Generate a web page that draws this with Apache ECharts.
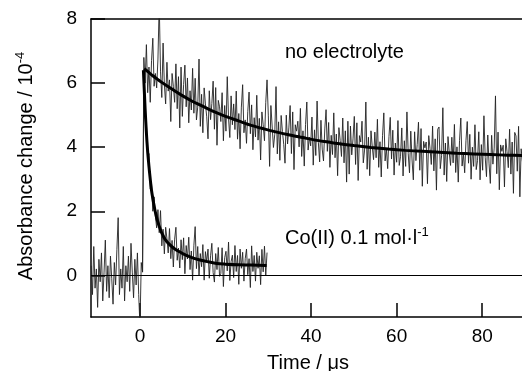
<!DOCTYPE html>
<html><head><meta charset="utf-8">
<script src="https://cdn.jsdelivr.net/npm/echarts@6/dist/echarts.min.js"></script>
<style>html,body{margin:0;padding:0;background:#fff}#c{width:522px;height:371px}</style>
</head><body><div id="c"></div>
<script>
const xTicks = [0, 20, 40, 60, 80];
const yTicks = [0, 2, 4, 6, 8];
const sampleStep = 0.3;

const baselineStart = -11.4;
const baselineValues = [0.3,-0.6,0.9,-0.4,0.2,-1.0,0.5,-0.2,0.7,-0.8,0.1,1.1,-0.5,0.3,-0.7,0.6,-0.1,-0.9,0.4,-0.3,0.8,1.8,-0.6,0.2,-0.4,0.9,-0.8,0.3,-0.2,0.6,-0.5,1.0,0.1,-0.7,0.5,-0.3,0.7,-0.6,-1.6,0.4,0.1];

const noElectrolyteStart = 0.6;
const noElectrolyteValues = [0.1,
6.8,6.0,7.2,5.7,6.5,5.4,6.7,7.4,5.9,6.3,
5.85,6.75,8.5,6.35,5.55,7.25,5.95,5.35,6.65,5.75,
6.1,4.8,6.3,5.9,5.4,6.6,5.2,6.2,4.6,6.5,
4.96,5.96,6.56,5.26,6.16,4.76,5.76,5.16,6.46,5.06,
6.15,4.85,5.25,6.75,4.65,5.65,4.45,5.85,5.35,4.95,
4.26,5.76,4.86,5.36,6.06,4.56,5.86,4.06,5.46,5.26,
4.8,5.7,4.2,5.3,4.5,6.2,4.9,4.3,5.6,4.7,
5.35,4.55,5.75,4.25,5.05,3.95,5.25,5.95,4.45,4.85,
4.12,5.12,5.72,4.42,5.32,3.92,4.92,4.32,5.62,4.22,
4.9,3.6,5.1,4.7,4.2,5.4,6.1,5.0,3.4,5.3,
5.29,3.99,4.39,5.89,3.79,4.79,3.59,4.99,4.49,4.09,
3.5,5.0,4.1,4.6,5.3,3.8,5.1,3.3,4.7,4.5,
4.81,4.01,5.21,3.71,4.51,3.41,4.71,5.41,3.91,4.31,
4.04,4.94,3.44,4.54,3.74,5.44,4.14,3.54,4.84,3.94,
3.57,4.57,5.17,3.87,4.77,3.37,4.37,3.77,5.07,3.67,
4.41,3.11,4.61,4.21,3.71,4.91,3.51,4.51,2.91,4.81,
3.16,4.66,3.76,4.26,4.96,3.46,4.76,2.96,4.36,4.16,
4.81,3.51,3.91,5.41,3.31,4.31,3.11,4.51,4.01,3.61,
4.47,3.67,4.87,3.37,4.17,3.07,4.37,5.07,3.57,3.97,
3.33,4.33,4.93,3.63,4.53,3.13,4.13,3.53,4.83,3.43,
3.7,4.6,3.1,4.2,3.4,5.1,3.8,3.2,4.5,3.6,
2.98,4.48,3.58,4.08,4.78,3.28,4.58,2.78,4.18,3.98,
4.16,2.86,4.36,3.96,3.46,4.66,3.26,4.26,2.66,4.56,
4.63,3.33,3.73,5.23,3.13,4.13,2.93,4.33,3.83,3.43,
4.31,3.51,4.71,3.21,4.01,2.91,4.21,4.91,3.41,3.81,
3.2,4.2,4.8,3.5,4.4,3.0,4.0,3.4,4.7,3.3,
3.58,4.48,2.98,4.08,3.28,4.98,3.68,3.08,4.38,3.48,
2.87,4.37,3.47,3.97,5.6,3.17,4.47,2.67,4.07,3.87,
4.06,2.76,4.26,3.86,3.36,4.56,3.16,4.16,2.56,4.46,
4.35,3.25,4.65,2.45,3.95,3.55];

const cobaltStart = 0.6;
const cobaltValues = [0.1,
6.4,4.9,4.75,3.65,3.8,2.7,2.85,2.0,2.45,1.85,
1.48,2.05,1.33,2.02,0.92,1.44,0.67,1.5,1.15,0.7,
1.46,0.52,1.09,0.26,1.13,1.5,0.47,0.85,0.23,1.11,
0.49,1.17,0.05,0.93,0.51,1.19,0.18,0.76,-0.15,0.94,
1.52,0.21,0.9,-0.01,0.68,0.27,0.96,-0.15,0.74,0.43,
0.82,-0.09,0.61,1.0,0.09,-0.21,0.68,0.18,0.87,-0.03,
0.06,0.86,-0.35,0.55,0.75,0.14,1.04,-0.16,0.43,0.63,
-0.07,0.93,0.12,0.62,-0.28,0.82,0.22,0.72,-0.18,0.52,
0.82,0.02,0.52,-0.38,0.92,0.12,0.62,-0.18,0.72,0.22,
0.61,-0.29,0.81,0.11,0.91,0.01,0.71];

const noElectrolyteFitTimes = [1,2,3,4,5,6,8,10,12,14,16,18,20,23,26,29,32,35,38,41,44,47,50,54,58,62,66,70,74,78,82,86,89.3];
const noElectrolyteFitValues = [6.45,6.34,6.23,6.13,6.03,5.94,5.77,5.6,5.45,5.32,5.19,5.07,4.96,4.82,4.68,4.57,4.47,4.38,4.3,4.22,4.16,4.1,4.05,3.99,3.94,3.9,3.87,3.84,3.81,3.79,3.77,3.75,3.74];

const cobaltFitTimes = [0.8,1.2,1.5,1.8,2.1,2.4,2.7,3.0,3.5,4,4.5,5,6,7,8,9,10,12,14,16,18,20,23,26,29.6];
const cobaltFitValues = [6.4,5.2,4.45,3.85,3.4,3.0,2.65,2.4,2.03,1.74,1.53,1.35,1.1,0.95,0.84,0.75,0.68,0.56,0.48,0.42,0.37,0.35,0.33,0.32,0.31];

const FONT = '"Liberation Sans", Arial, Helvetica, sans-serif';

function sampled(start, values) {
  return values.map((v, i) => [+(start + i * sampleStep).toFixed(2), v]);
}
function paired(times, values) {
  return times.map((t, i) => [t, values[i]]);
}

const rawStyle = { color: '#222', width: 0.9 };
const fitStyle = { color: '#000', width: 3 };

const chart = echarts.init(document.getElementById('c'), null, { renderer: 'canvas' });
chart.setOption({
  animation: false,
  backgroundColor: '#fff',
  grid: { left: 91, top: 19, right: 0, bottom: 54, containLabel: false },
  xAxis: [{
    type: 'value', min: -11.45, max: 89.3, position: 'bottom',
    axisLine: { show: true, onZero: false, lineStyle: { color: '#000', width: 1.5 } },
    axisTick: { show: true, inside: true, length: 14, customValues: xTicks, lineStyle: { color: '#000', width: 1.5 } },
    axisLabel: { show: true, customValues: xTicks, fontSize: 19, color: '#000', margin: 10, fontFamily: FONT },
    splitLine: { show: false }
  }, {
    type: 'value', min: -11.45, max: 89.3, position: 'top',
    axisLine: { show: true, onZero: false, lineStyle: { color: '#000', width: 1.5 } },
    axisTick: { show: false }, axisLabel: { show: false }, splitLine: { show: false }
  }],
  yAxis: {
    type: 'value', min: -1.3, max: 8,
    axisLine: { show: true, onZero: false, lineStyle: { color: '#000', width: 1.5 } },
    axisTick: { show: true, inside: true, length: 14, customValues: yTicks, lineStyle: { color: '#000', width: 1.5 } },
    axisLabel: { show: true, customValues: yTicks, fontSize: 19, color: '#000', margin: 14, fontFamily: FONT },
    splitLine: { show: false }
  },
  series: [
    { type: 'line', data: sampled(baselineStart, baselineValues), showSymbol: false, symbol: 'none', lineStyle: rawStyle, clip: true,
      markLine: { silent: true, symbol: 'none', label: { show: false }, lineStyle: { color: '#000', width: 1.2, type: 'solid' }, data: [{ yAxis: 0 }] } },
    { type: 'line', data: sampled(noElectrolyteStart, noElectrolyteValues), showSymbol: false, symbol: 'none', lineStyle: rawStyle, clip: true },
    { type: 'line', data: sampled(cobaltStart, cobaltValues), showSymbol: false, symbol: 'none', lineStyle: rawStyle, clip: true },
    { type: 'line', data: paired(noElectrolyteFitTimes, noElectrolyteFitValues), showSymbol: false, symbol: 'none', smooth: 0.3, lineStyle: fitStyle, z: 5 },
    { type: 'line', data: paired(cobaltFitTimes, cobaltFitValues), showSymbol: false, symbol: 'none', smooth: 0.3, lineStyle: fitStyle, z: 5 }
  ],
  graphic: [
    { type: 'text', x: 26, y: 166, rotation: Math.PI / 2,
      style: { text: 'Absorbance change / 10{sup|-4}', fontSize: 20, fontFamily: FONT, fill: '#000', align: 'center', verticalAlign: 'middle', lineHeight: 24,
        rich: { sup: { fontSize: 13, lineHeight: 14, verticalAlign: 'top', fontFamily: FONT, fill: '#000' } } } },
    { type: 'text', x: 308, y: 363,
      style: { text: 'Time / μs', fontSize: 20, fontFamily: FONT, fill: '#000', align: 'center', verticalAlign: 'middle' } },
    { type: 'text', x: 285, y: 52,
      style: { text: 'no electrolyte', fontSize: 20, fontFamily: FONT, fill: '#000', align: 'left', verticalAlign: 'middle' } },
    { type: 'text', x: 285, y: 238,
      style: { text: 'Co(II) 0.1 mol·l{sup|-1}', fontSize: 20, fontFamily: FONT, fill: '#000', align: 'left', verticalAlign: 'middle', lineHeight: 24,
        rich: { sup: { fontSize: 13, lineHeight: 14, verticalAlign: 'top', fontFamily: FONT, fill: '#000' } } } }
  ]
});
</script>
</body></html>
